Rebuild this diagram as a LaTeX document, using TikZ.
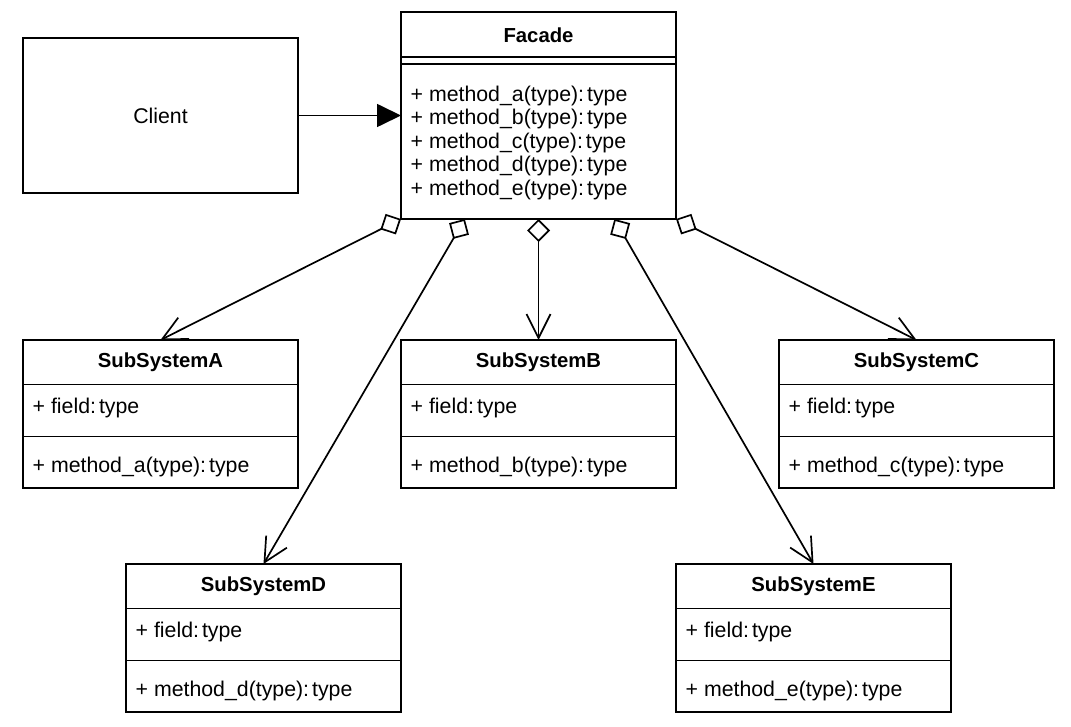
\documentclass[tikz,border=0pt]{standalone}
\usepackage{fontspec}
\setmainfont{Liberation Sans}
\usetikzlibrary{arrows.meta,calc}
\newcommand{\colsp}{\hspace{0.14em}}
\tikzset{
  classbox/.style={draw, line width=1.7pt, fill=white, inner sep=0pt, outer sep=0pt,
    minimum width=275pt, minimum height=148pt},
  sep/.style={line width=1.7pt},
  titletext/.style={inner sep=0pt, font=\fontsize{20.3}{24}\selectfont\bfseries},
  bodytext/.style={inner sep=0pt, anchor=west, font=\fontsize{21.3}{23.6}\selectfont},
  conn/.style={line width=1.7pt},
  aggr/.style={conn, {Diamond[length=23pt,width=23pt,fill=white,line width=1.7pt]}-{Straight Barb[length=24pt,width=24pt,line width=1.7pt]}},
}
\newcommand{\umlclass}[6]{%
  \node[classbox, anchor=north west] (#1) at (#2,#3) {};
  \draw[sep] ([yshift=-44.5pt]#1.north west) -- ([yshift=-44.5pt]#1.north east);
  \draw[sep] ([yshift=-96.5pt]#1.north west) -- ([yshift=-96.5pt]#1.north east);
  \node[titletext] (#1-title) at (#2+137.5,#3+22.5) {#4};
  \node[bodytext] (#1-field) at (#2+9.5,#3+68) {#5};
  \node[bodytext] (#1-method) at (#2+9.5,#3+126.5) {#6};
}
\begin{document}
\begin{tikzpicture}[x=1pt,y=-1pt]
\fill[white] (0,0) rectangle (1071,727);
\useasboundingbox (0,0) rectangle (1071,727);

% Client
\node[classbox, minimum height=155pt, font=\fontsize{21.3}{24}\selectfont] (Client) at (160.5,115.5) {Client};

% Facade
\node[classbox, minimum height=207pt, anchor=north west] (Facade) at (401,12) {};
\draw[sep] ([yshift=-45pt]Facade.north west) -- ([yshift=-45pt]Facade.north east);
\draw[sep] ([yshift=-52pt]Facade.north west) -- ([yshift=-52pt]Facade.north east);
\node[titletext] (Facade-title) at (538.5,35) {Facade};
\node[bodytext, align=left] (Facade-methods) at (410.5,142.7)
  {+ method\_a(type):\colsp type\\+ method\_b(type):\colsp type\\+ method\_c(type):\colsp type\\+ method\_d(type):\colsp type\\+ method\_e(type):\colsp type};

% Subsystems
\umlclass{A}{23}{340}{SubSystemA}{+ field:\colsp type}{+ method\_a(type):\colsp type}
\umlclass{B}{401}{340}{SubSystemB}{+ field:\colsp type}{+ method\_b(type):\colsp type}
\umlclass{C}{779}{340}{SubSystemC}{+ field:\colsp type}{+ method\_c(type):\colsp type}
\umlclass{D}{126}{564}{SubSystemD}{+ field:\colsp type}{+ method\_d(type):\colsp type}
\umlclass{E}{676}{564}{SubSystemE}{+ field:\colsp type}{+ method\_e(type):\colsp type}

% Connectors
\draw[conn, -{Triangle[length=24pt,width=23pt]}] (Client.east) -- (Client.east -| Facade.west);

\coordinate (fD) at ($(Facade.south west)!0.232!(Facade.south east)$);
\coordinate (fE) at ($(Facade.south west)!0.776!(Facade.south east)$);

\draw[aggr] (Facade.south west) -- (A.north);
\draw[aggr] (fD) -- (D.north);
\draw[aggr] (Facade.south) -- (B.north);
\draw[aggr] (fE) -- (E.north);
\draw[aggr] (Facade.south east) -- (C.north);
\end{tikzpicture}
\end{document}
